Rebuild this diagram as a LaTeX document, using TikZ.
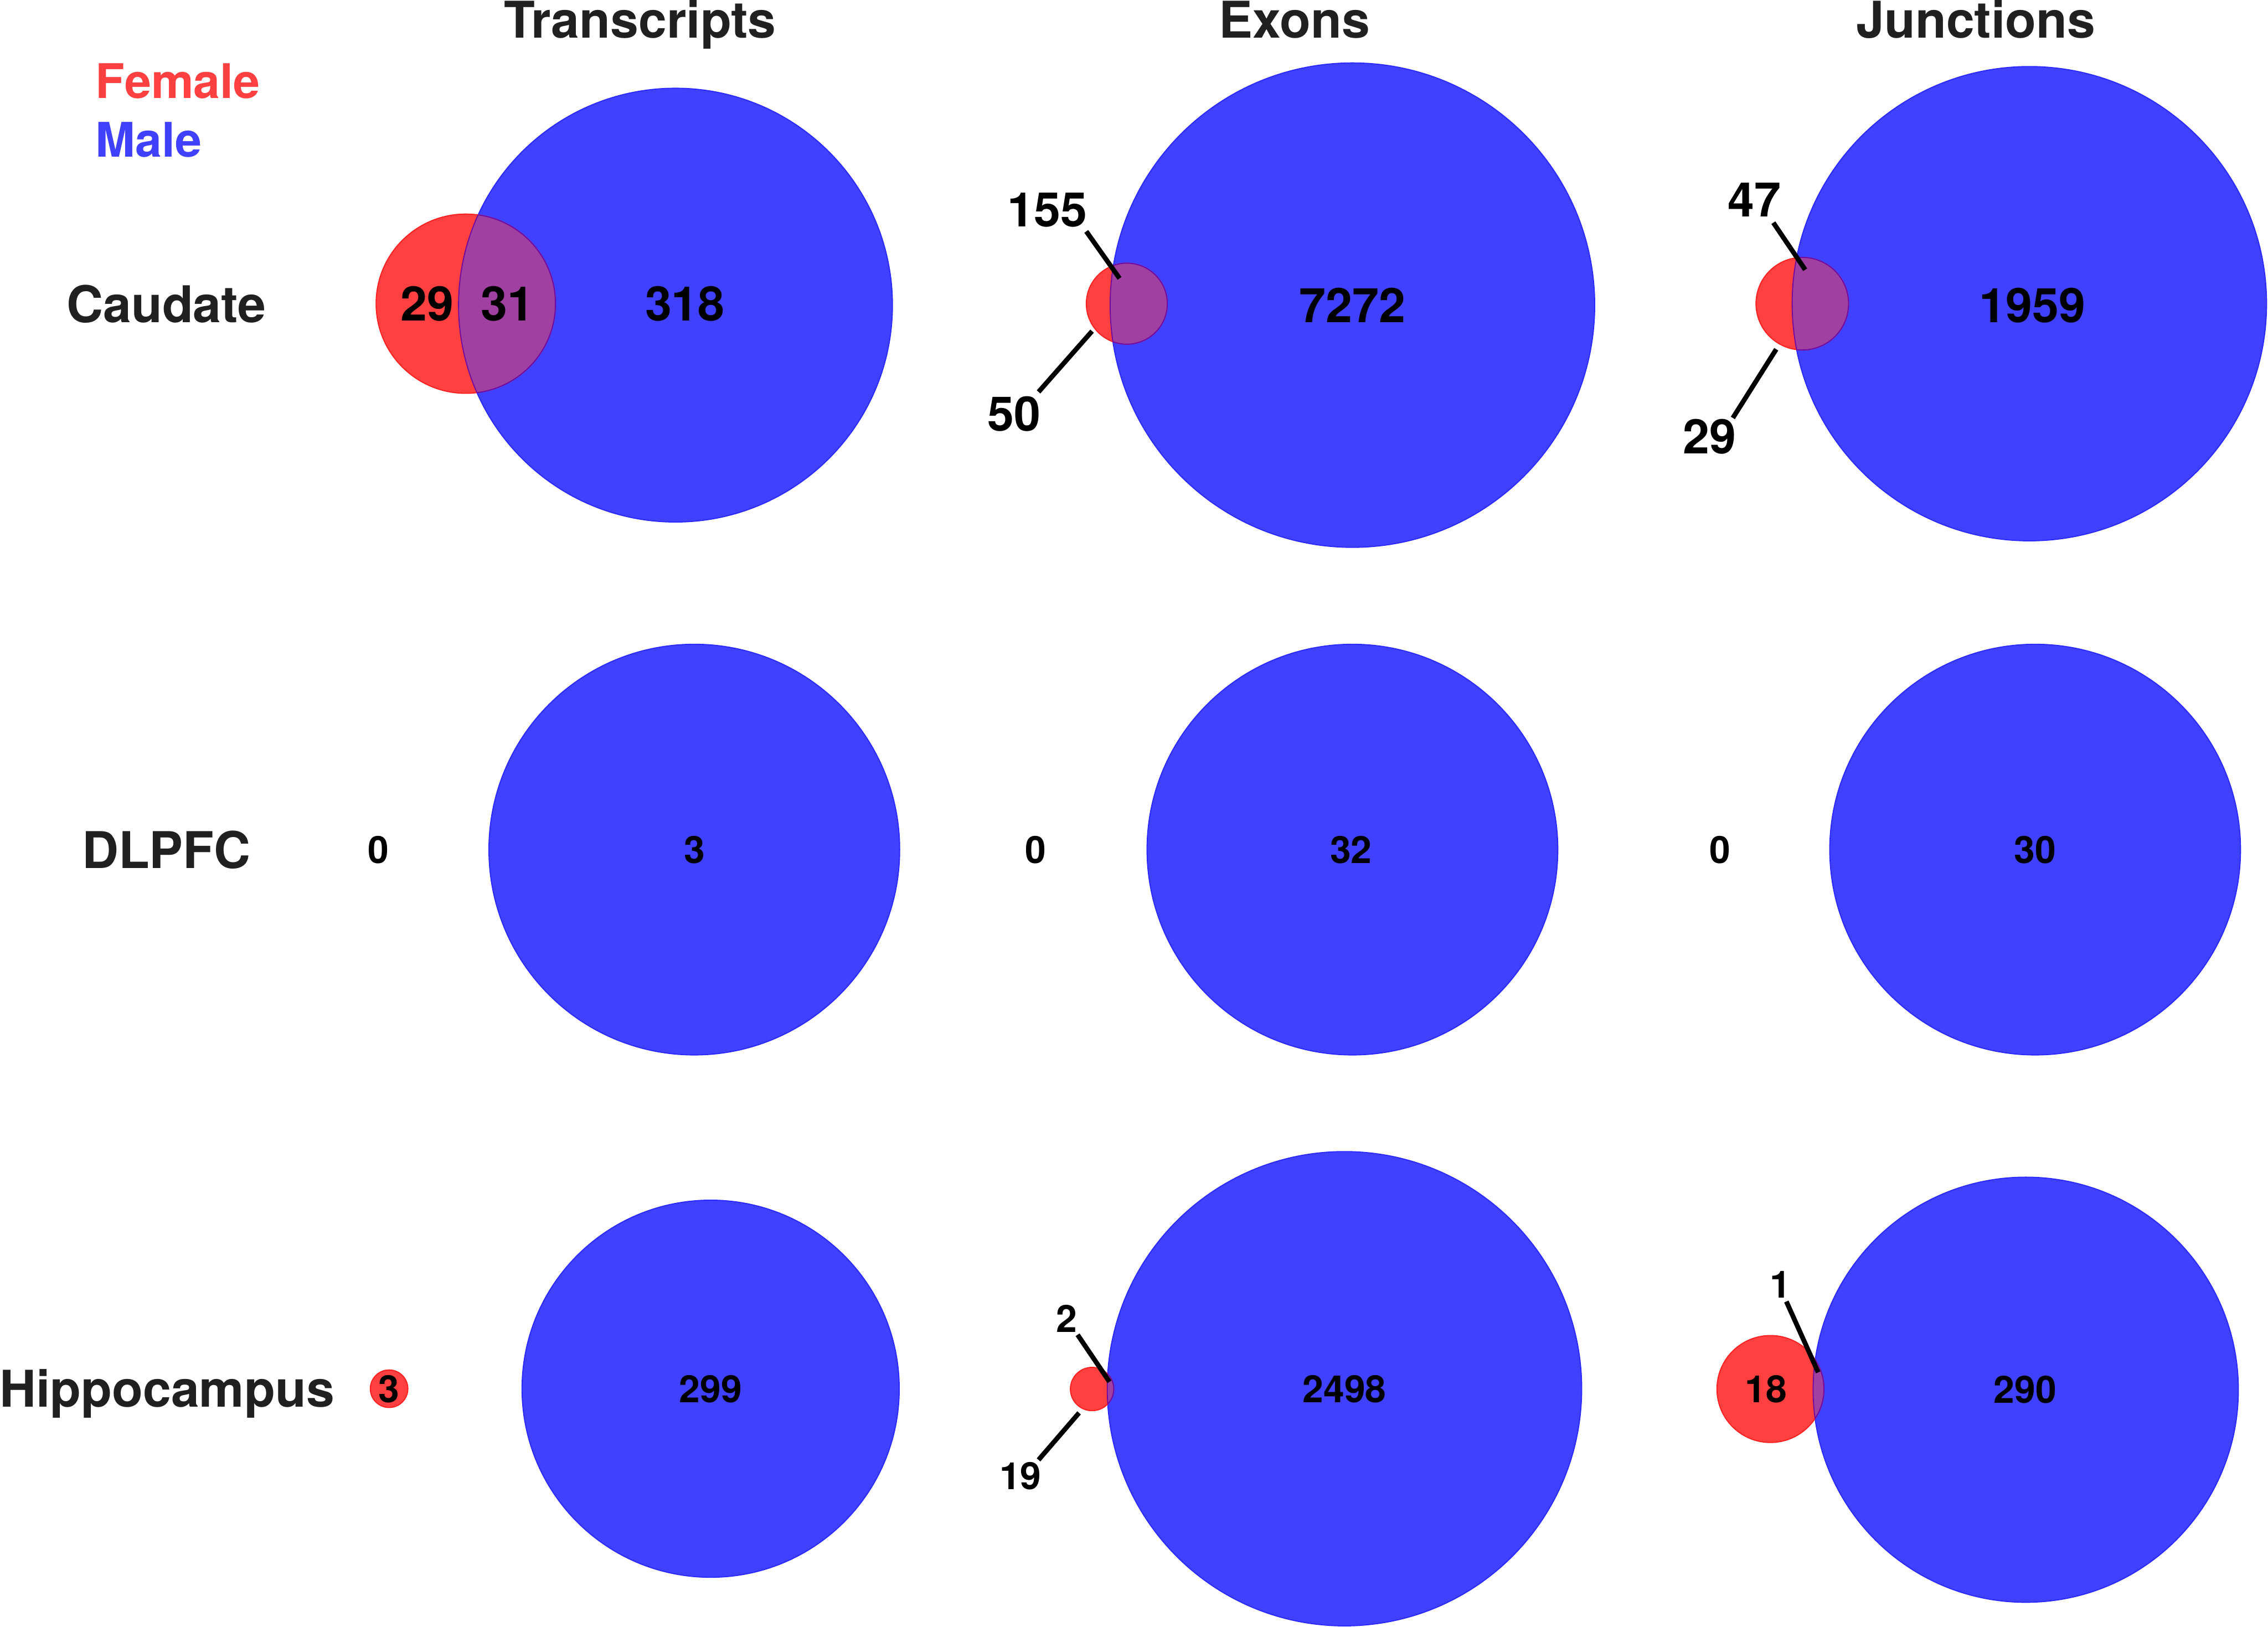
\documentclass[tikz,border=0pt]{standalone}
\usepackage{fontspec}
\setmainfont{TeX Gyre Heros}
\definecolor{bluefill}{RGB}{64,64,255}
\definecolor{redfill}{RGB}{255,64,64}
\definecolor{ovlfill}{RGB}{160,64,160}
\definecolor{blueedge}{RGB}{40,40,255}
\definecolor{rededge}{RGB}{255,30,30}
\definecolor{ovledge}{RGB}{110,10,160}
\definecolor{labgray}{RGB}{32,32,32}
\newcommand\myvenn[6]{%
  \fill[bluefill] (#1,#2) circle (#3);
  \draw[blueedge, line width=0.7pt] (#1,#2) circle (#3);
  \fill[redfill] (#4,#5) circle (#6);
  \draw[rededge, line width=0.7pt] (#4,#5) circle (#6);
  \begin{scope}
    \clip (#1,#2) circle (#3);
    \fill[ovlfill] (#4,#5) circle (#6);
    \draw[ovledge, line width=0.7pt] (#4,#5) circle (#6);
  \end{scope}
  \begin{scope}
    \clip (#4,#5) circle (#6);
    \draw[ovledge, line width=0.7pt] (#1,#2) circle (#3);
  \end{scope}}
\newcommand\myblue[3]{%
  \fill[bluefill] (#1,#2) circle (#3);
  \draw[blueedge, line width=0.7pt] (#1,#2) circle (#3);}
\begin{document}
\begin{tikzpicture}[x=1pt,y=-1pt,
  lbl/.style={font=\fontsize{35}{35}\selectfont\bfseries, text=labgray, inner sep=0pt, text height=25.1pt, text depth=0pt},
  numa/.style={font=\fontsize{33}{33}\selectfont\bfseries, text=black, inner sep=0pt, text height=23.7pt, text depth=0pt},
  numb/.style={font=\fontsize{26}{26}\selectfont\bfseries, text=black, inner sep=0pt, text height=18.7pt, text depth=0pt},
  lead/.style={line width=3.3pt, black}]
\useasboundingbox[fill=white] (0,0) rectangle (1568,1125);

% legend
\node[numa, anchor=base west, text=redfill] (female) at (66,68) {Female};
\node[numa, anchor=base west, text=bluefill] (male) at (66,108.5) {Male};

% column titles
\node[lbl] (t1) at (442.5,13.5) {Transcripts};
\node[lbl] (t2) at (895,13.5) {Exons};
\node[lbl] (t3) at (1366,13.5) {Junctions};

% row labels
\node[lbl] (r1) at (115,210.5) {Caudate};
\node[lbl] (r2) at (115,588) {DLPFC};
\node[lbl] (r3) at (115.5,960.5) {Hippocampus};

% ---------- Caudate ----------
\myvenn{467}{211}{150}{322}{210}{62}
\node[numa] (c11) at (295.5,210) {29};
\node[numa] (c12) at (351,210) {31};
\node[numa] (c13) at (473.5,210) {318};

\myvenn{935}{211}{167.5}{779}{210}{28}
\node[numa] (c21) at (935,211) {7272};
\node[numa] (c22) at (724,145) {155};
\node[numa] (c23) at (701,286) {50};
\coordinate (c22a) at (751,160);
\coordinate (c22b) at (774,192.5);
\coordinate (c23a) at (755,229);
\coordinate (c23b) at (718,271);
\draw[lead] (c22a) -- (c22b);
\draw[lead] (c23a) -- (c23b);

\myvenn{1403}{210}{164}{1246}{210}{32}
\node[numa] (c31) at (1405,211) {1959};
\node[numa] (c32) at (1213,138) {47};
\node[numa] (c33) at (1182,302) {29};
\coordinate (c32a) at (1226,154);
\coordinate (c32b) at (1248,186.5);
\coordinate (c33a) at (1228,241.5);
\coordinate (c33b) at (1198,289);
\draw[lead] (c32a) -- (c32b);
\draw[lead] (c33a) -- (c33b);

% ---------- DLPFC ----------
\myblue{480}{587.5}{142}
\node[numb] (d10) at (261.5,587.5) {0};
\node[numb] (d11) at (480,587.5) {3};
\myblue{935}{587.5}{142}
\node[numb] (d20) at (716,587.5) {0};
\node[numb] (d21) at (934,587.5) {32};
\myblue{1407}{587.5}{142}
\node[numb] (d30) at (1189,587.5) {0};
\node[numb] (d31) at (1407,587.5) {30};

% ---------- Hippocampus ----------
\fill[redfill] (269,960.3) circle (13);
\draw[rededge, line width=0.7pt] (269,960.3) circle (13);
\node[numb] (h10) at (269,960.3) {3};
\myblue{491.3}{960.3}{130.4}
\node[numb] (h11) at (491.3,960.3) {299};

\myvenn{929.5}{960.3}{164}{755}{960.5}{15}
\node[numb] (h21) at (929.5,960.3) {2498};
\node[numb] (h22) at (737.5,912) {2};
\node[numb] (h23) at (705.5,1020.5) {19};
\coordinate (h22a) at (745,923);
\coordinate (h22b) at (767,955.5);
\coordinate (h23a) at (746,977);
\coordinate (h23b) at (718,1009.5);
\draw[lead] (h22a) -- (h22b);
\draw[lead] (h23a) -- (h23b);

\myvenn{1400.5}{961}{147}{1224}{960.5}{37}
\node[numb] (h31) at (1400,961) {290};
\node[numb] (h32) at (1221,960.5) {18};
\node[numb] (h33) at (1231,888) {1};
\coordinate (h33a) at (1235,900);
\coordinate (h33b) at (1257,949);
\draw[lead] (h33a) -- (h33b);
\end{tikzpicture}
\end{document}
